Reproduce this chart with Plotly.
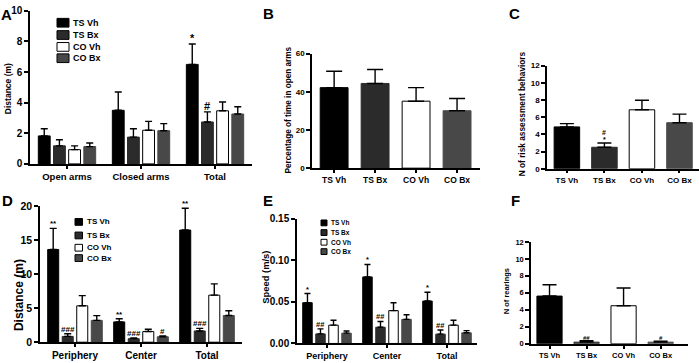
import numpy as np
import plotly.graph_objects as go

FONT = "Liberation Sans, Arial, sans-serif"
W, H = 699, 363

series = ["TS Vh", "TS Bx", "CO Vh", "CO Bx"]
fills = ["#000000", "#2b2b2b", "#ffffff", "#484848"]
edges = ["#000000", "#2b2b2b", "#000000", "#484848"]

# A - distance travelled in the plus maze (one row per series)
a_groups = ["Open arms", "Closed arms", "Total"]
a_mean = [[1.83, 3.5, 6.5], [1.18, 1.75, 2.74], [0.93, 2.2, 3.47], [1.13, 2.17, 3.26]]
a_err = [[0.47, 1.2, 1.33], [0.4, 0.55, 0.66], [0.25, 0.58, 0.57], [0.24, 0.46, 0.47]]
a_marks = [(2, 0, "*"), (2, 1, "#")]

# B - % time in open arms
b_mean = [42.2, 44.4, 35.1, 30.1]
b_err = [8.6, 7.3, 7.1, 6.4]

# C - risk assessment behaviours
c_mean = [4.87, 2.5, 6.86, 5.36]
c_err = [0.38, 0.5, 1.12, 1.0]
c_marks = [(1, "*", 0), (1, "#", 7)]

# D - open field distance
d_groups = ["Periphery", "Center", "Total"]
d_mean = [[13.6, 2.98, 16.45], [0.85, 0.52, 1.65], [5.34, 1.56, 6.9], [3.2, 0.8, 3.92]]
d_err = [[3.1, 0.47, 3.2], [0.38, 0.1, 0.38], [1.5, 0.34, 1.66], [0.7, 0.1, 0.7]]
d_marks = [(0, 0, "**"), (0, 1, "###"), (1, 0, "**"), (1, 1, "###"), (1, 3, "#"),
           (2, 0, "**"), (2, 1, "###")]

# E - open field speed
e_groups = ["Periphery", "Center", "Total"]
e_mean = [[0.049, 0.080, 0.051], [0.0115, 0.0195, 0.0112], [0.022, 0.0395, 0.022], [0.0124, 0.029, 0.0128]]
e_err = [[0.011, 0.015, 0.0106], [0.006, 0.007, 0.005], [0.006, 0.0095, 0.006], [0.0026, 0.0055, 0.0027]]
e_marks = [(0, 0, "*"), (0, 1, "##"), (1, 0, "*"), (1, 1, "##"), (2, 0, "*"), (2, 1, "##")]

# F - rearings
f_mean = [5.62, 0.19, 4.48, 0.19]
f_err = [1.33, 0.17, 2.09, 0.11]
f_marks = [(1, "##"), (3, "#")]

fig = go.Figure()
axes = {}
notes = []
shapes = []


def bold(size):
    return dict(family=FONT, size=size, color="black", weight="bold")


def axis_style(size):
    return dict(showline=True, linecolor="black", linewidth=1.5, ticks="outside",
                ticklen=4, tickwidth=1.5, tickcolor="black", showgrid=False,
                zeroline=False, tickfont=bold(size), fixedrange=True)


def add_axes(k, x0, x1, ytop, ybot, xrange, yrange, dtick, ysize, labels, xsize, fmt=None):
    key = "" if k == 1 else str(k)
    xa = axis_style(xsize)
    xa.update(domain=[x0 / W, x1 / W], range=xrange, anchor="y" + key,
              tickvals=list(range(len(labels))), ticktext=labels, ticklen=3)
    ya = axis_style(ysize)
    ya.update(domain=[1 - ybot / H, 1 - ytop / H], range=yrange, anchor="x" + key,
              tick0=0, dtick=dtick)
    if fmt:
        ya["tickformat"] = fmt
    axes["xaxis" + key] = xa
    axes["yaxis" + key] = ya
    return "x" + key, "y" + key


def errs(arr, cap):
    return dict(type="data", array=arr, arrayminus=[0] * len(arr), symmetric=False,
                color="black", thickness=1.4, width=cap)


def grouped(k, groups, means, errors, slot, bw, cap, marks, msize, geom):
    xr, yr = add_axes(k, *geom)
    base = np.arange(len(groups))
    for i, name in enumerate(series):
        fig.add_trace(go.Bar(x=base + (i - 1.5) * slot, y=means[i], width=bw, name=name,
                             marker=dict(color=fills[i], line=dict(color=edges[i], width=1)),
                             error_y=errs(errors[i], cap), xaxis=xr, yaxis=yr,
                             showlegend=False))
    for g, i, txt in marks:
        notes.append(dict(x=g + (i - 1.5) * slot, y=means[i][g] + errors[i][g], xref=xr, yref=yr,
                          text=txt, showarrow=False, yanchor="bottom", yshift=-2,
                          font=bold(msize)))


def single(k, means, errors, bw, cap, geom):
    xr, yr = add_axes(k, *geom)
    fig.add_trace(go.Bar(x=list(range(len(series))), y=means, width=bw,
                         marker=dict(color=fills, line=dict(color=edges, width=1)),
                         error_y=errs(errors, cap), xaxis=xr, yaxis=yr, showlegend=False))
    return xr, yr


def legend(x, rows, sw, sh, size):
    for i, name in enumerate(series):
        y = rows[i]
        shapes.append(dict(type="rect", xref="paper", yref="paper",
                           x0=x / W, x1=(x + sw) / W, y0=1 - (y + sh / 2) / H, y1=1 - (y - sh / 2) / H,
                           fillcolor=fills[i], line=dict(color="black", width=1)))
        notes.append(dict(x=(x + sw + 2) / W, y=1 - y / H, xref="paper", yref="paper",
                          text=name, showarrow=False, xanchor="left", yanchor="middle",
                          font=bold(size)))


def label(x, y, text, size, angle=0):
    notes.append(dict(x=x / W, y=1 - y / H, xref="paper", yref="paper", text=text,
                      showarrow=False, textangle=angle, font=bold(size),
                      xanchor="center", yanchor="middle"))


# panel A
grouped(1, a_groups, a_mean, a_err, 0.205, 0.16, 3.5, a_marks, 11,
        (30, 252, 5, 163.3, [-0.5, 2.5], [0, 10], 2, 10, a_groups, 9.5))
legend(57, [17.3, 30, 42.3, 54], 12, 9, 9)
label(8, 86, "Distance (m)", 8.5, -90)

# panel B
single(2, b_mean, b_err, 0.68, 8,
       (312, 480, 49.3, 167.7, [-0.54, 3.56], [0, 60], 20, 8, series, 8.5))
label(288, 108, "Percentage of time in open arms", 8.2, -90)

# panel C
xr, yr = single(3, c_mean, c_err, 0.68, 7,
                (547, 699, 61.7, 168.3, [-0.53, 3.52], [0, 12], 2, 8, series, 8))
for g, txt, sh in c_marks:
    notes.append(dict(x=g, y=c_mean[g] + c_err[g], xref=xr, yref=yr, text=txt,
                      showarrow=False, yanchor="bottom", yshift=sh - 2, font=bold(7)))
label(522, 112, "N of risk assessment behaviors", 8.3, -90)

# panel D
grouped(4, d_groups, d_mean, d_err, 0.22, 0.167, 3.5, d_marks, 8,
        (40, 242, 206.7, 347.7, [-0.53, 2.53], [0, 20], 5, 10.5, d_groups, 10))
legend(75, [223.3, 237.3, 250, 260.7], 7.5, 7, 8)
label(19, 299, "Distance (m)", 12, -90)

# panel E
grouped(5, e_groups, e_mean, e_err, 0.217, 0.158, 3, e_marks, 7.5,
        (297, 477, 220, 349, [-0.5, 2.5], [0, 0.15], 0.05, 10, e_groups, 9, ".2f"))
legend(321, [224.3, 234.3, 244.3, 254], 6, 6, 6.5)
label(266, 281, "Speed (m/s)", 9.4, -90)

# panel F
xr, yr = single(6, f_mean, f_err, 0.68, 7,
                (531, 688, 244, 349.3, [-0.5, 3.74], [0, 12], 2, 7.5, series, 7.5))
for g, txt in f_marks:
    notes.append(dict(x=g, y=f_mean[g] + f_err[g], xref=xr, yref=yr, text=txt,
                      showarrow=False, yanchor="bottom", yshift=-2, font=bold(6)))
label(506, 295, "N of rearings", 7.5, -90)

# panel letters
for txt, x, y in [("A", 6, 9), ("B", 268, 8), ("C", 514, 8),
                  ("D", 7, 201), ("E", 268, 201), ("F", 515, 201)]:
    label(x, y, txt, 15)

fig.update_layout(width=W, height=H, autosize=False, margin=dict(l=0, r=0, t=0, b=0),
                  paper_bgcolor="white", plot_bgcolor="white", barmode="overlay",
                  showlegend=False, annotations=notes, shapes=shapes, **axes)
# page body margin would shift the fixed-size figure; drop it
fig.write_html("out.html", config={"displayModeBar": False},
               post_script="document.body.style.margin='0';")
